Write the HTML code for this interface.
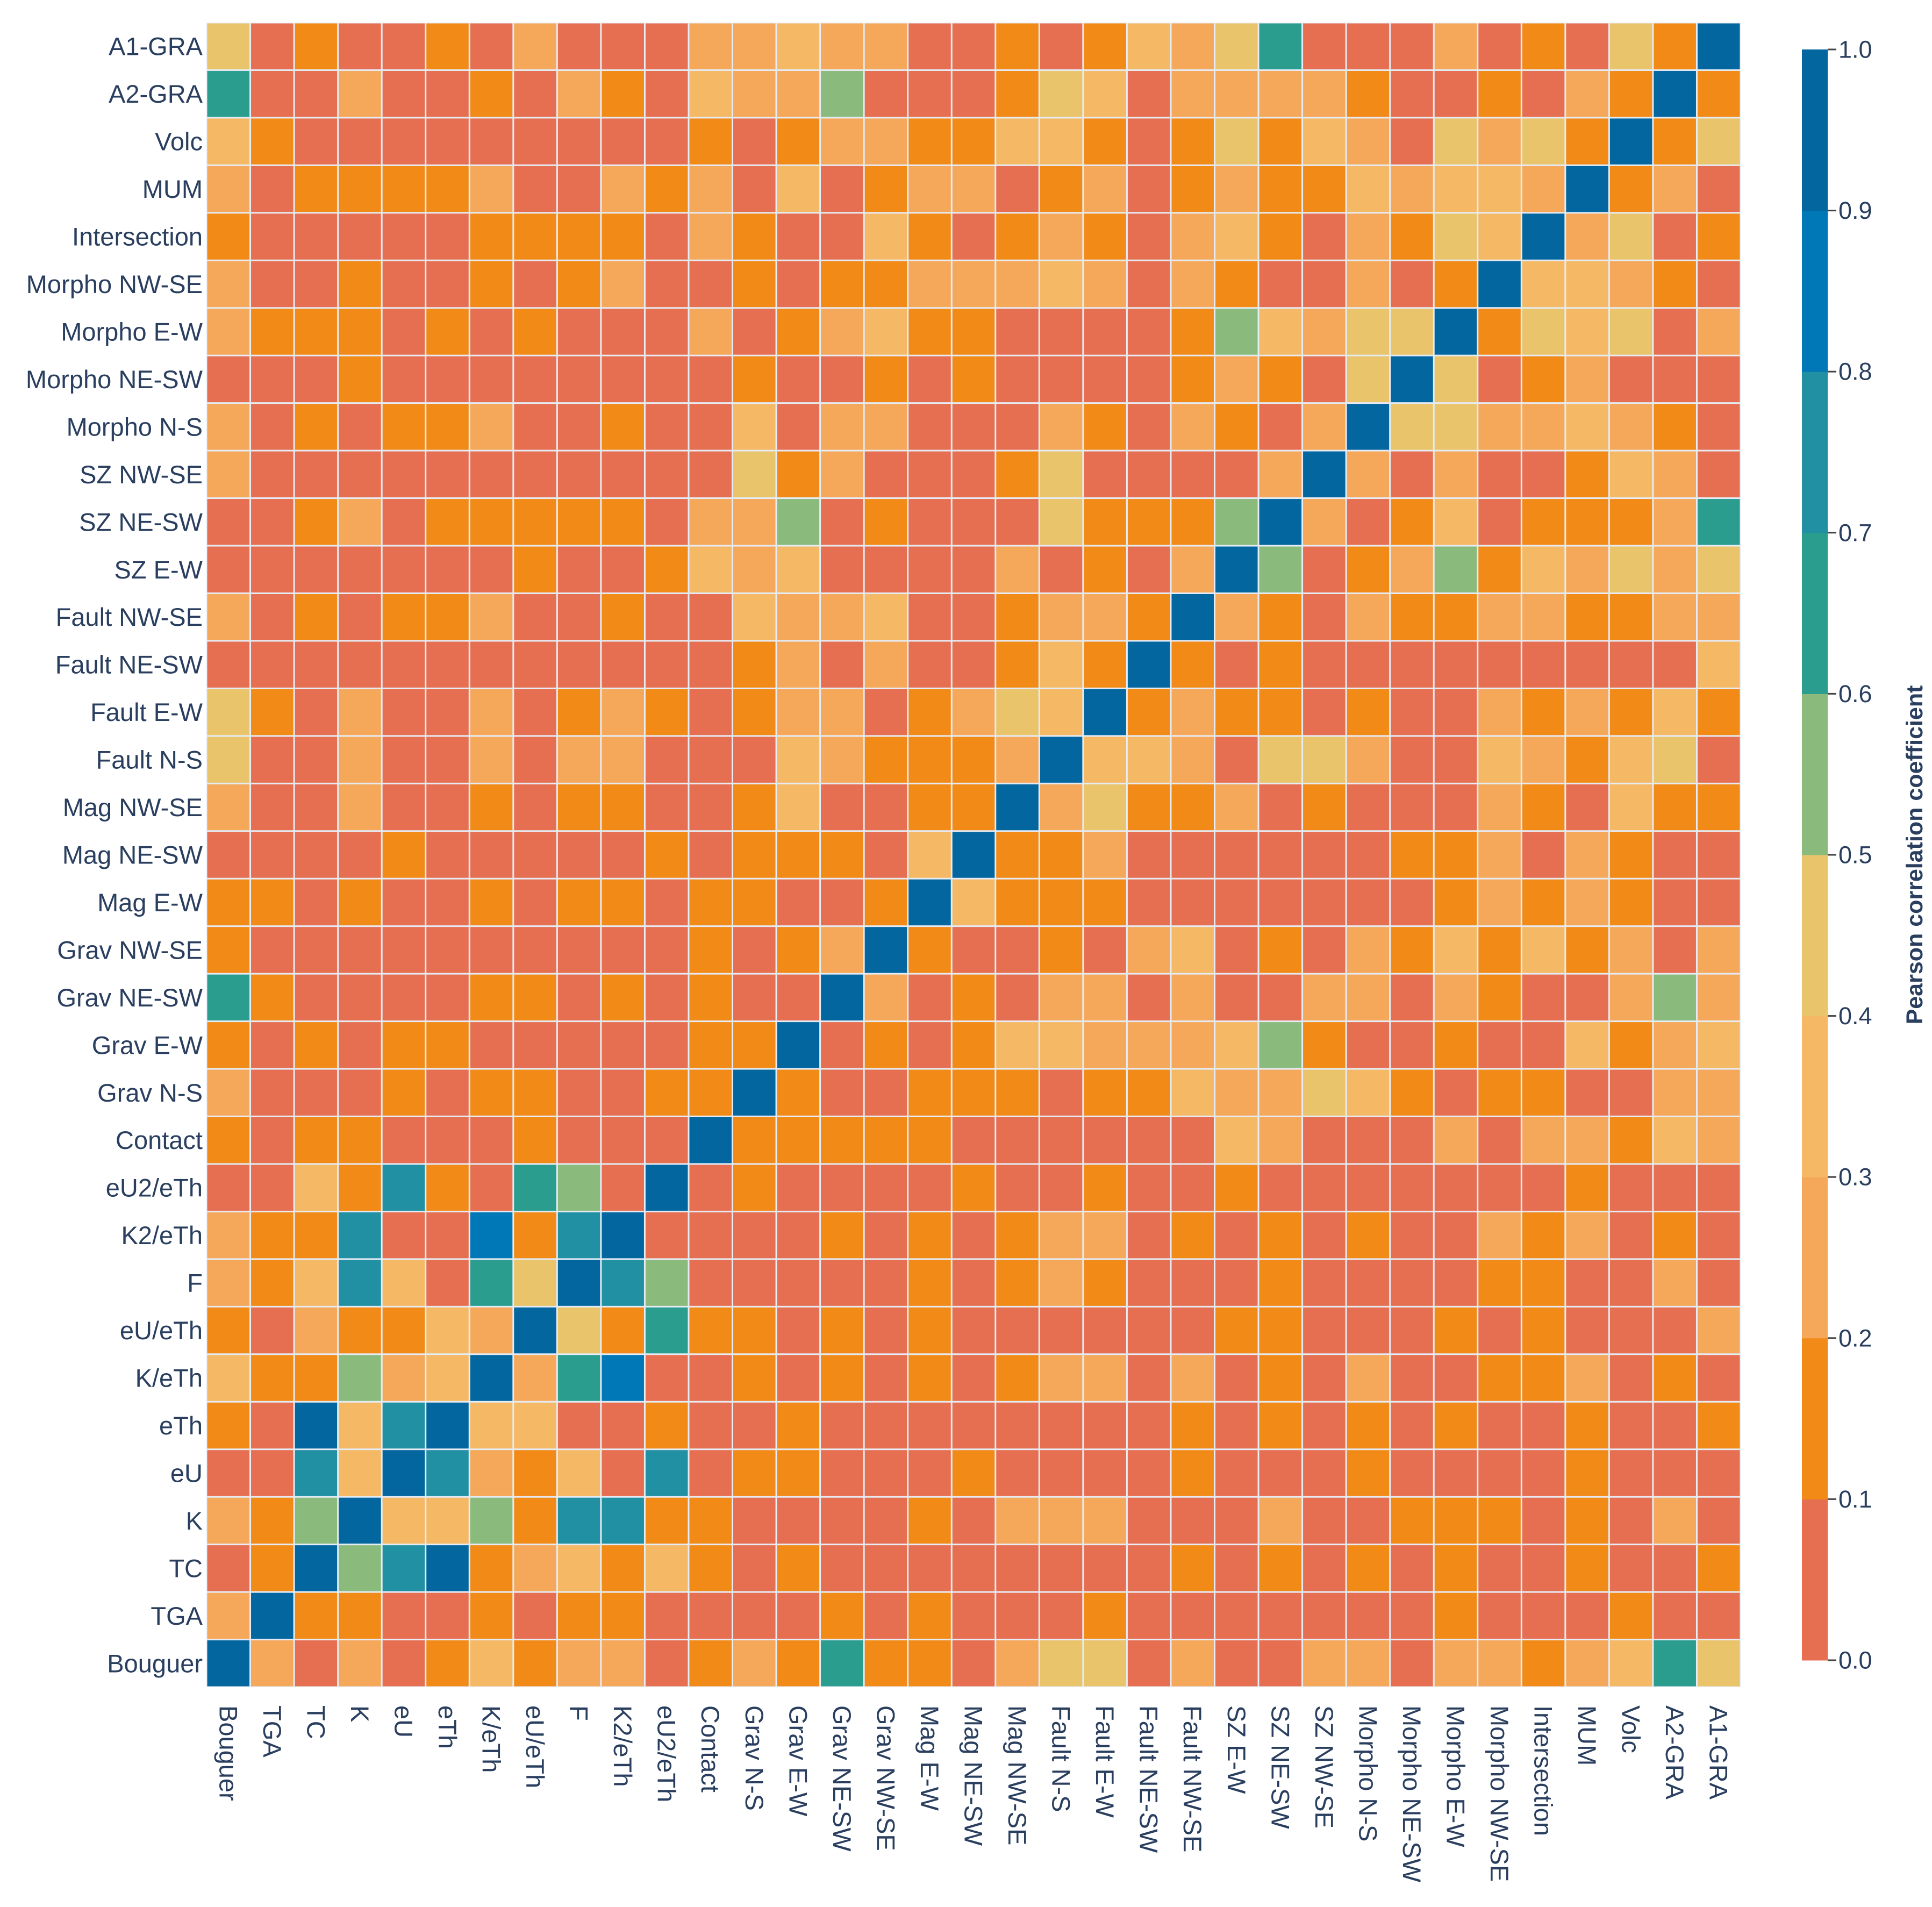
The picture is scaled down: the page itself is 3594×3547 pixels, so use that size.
<!DOCTYPE html>
<html>
<head>
<meta charset="utf-8">
<style>
  html,body{margin:0;padding:0;background:#fff;}
  svg{display:block;}
  text{font-family:"Liberation Sans",Arial,sans-serif;fill:#2a3f5f;}
</style>
</head>
<body>
<svg id="chart" width="3594" height="3547" viewBox="0 0 3594 3547" xmlns="http://www.w3.org/2000/svg">
  <rect x="0" y="0" width="3594" height="3547" fill="#ffffff"/>
  <g id="cells"></g>
  <g id="ylabels"></g>
  <g id="xlabels"></g>
  <g id="colorbar"></g>
  <text x="0" y="0" transform="translate(3562,1590) rotate(-90)" text-anchor="middle" dominant-baseline="central" font-size="43" font-weight="bold">Pearson correlation coefficient</text>
</svg>
<script>
const variableLabels = ["Bouguer","TGA","TC","K","eU","eTh","K/eTh","eU/eTh","F","K2/eTh","eU2/eTh","Contact","Grav N-S","Grav E-W","Grav NE-SW","Grav NW-SE","Mag E-W","Mag NE-SW","Mag NW-SE","Fault N-S","Fault E-W","Fault NE-SW","Fault NW-SE","SZ E-W","SZ NE-SW","SZ NW-SE","Morpho N-S","Morpho NE-SW","Morpho E-W","Morpho NW-SE","Intersection","MUM","Volc","A2-GRA","A1-GRA"];

const rowBouguer = [1,.25,.05,.25,.05,.15,.35,.15,.25,.25,.05,.15,.25,.15,.65,.15,.15,.05,.25,.45,.45,.05,.25,.05,.05,.25,.25,.05,.25,.25,.15,.25,.35,.65,.45];
const rowTGA = [.25,1,.15,.15,.05,.05,.15,.05,.15,.15,.05,.05,.05,.05,.15,.05,.15,.05,.05,.05,.15,.05,.05,.05,.05,.05,.05,.05,.15,.05,.05,.05,.15,.05,.05];
const rowTC = [.05,.15,1,.55,.75,.95,.15,.25,.35,.15,.35,.15,.05,.15,.05,.05,.05,.05,.05,.05,.05,.05,.15,.05,.15,.05,.15,.05,.15,.05,.05,.15,.05,.05,.15];
const rowK = [.25,.15,.55,1,.35,.35,.55,.15,.75,.75,.15,.15,.05,.05,.05,.05,.15,.05,.25,.25,.25,.05,.05,.05,.25,.05,.05,.15,.15,.15,.05,.15,.05,.25,.05];
const rowEU = [.05,.05,.75,.35,1,.75,.25,.15,.35,.05,.75,.05,.15,.15,.05,.05,.05,.15,.05,.05,.05,.05,.15,.05,.05,.05,.15,.05,.05,.05,.05,.15,.05,.05,.05];
const rowETh = [.15,.05,.95,.35,.75,1,.35,.35,.05,.05,.15,.05,.05,.15,.05,.05,.05,.05,.05,.05,.05,.05,.15,.05,.15,.05,.15,.05,.15,.05,.05,.15,.05,.05,.15];
const rowKeTh = [.35,.15,.15,.55,.25,.35,1,.25,.65,.85,.05,.05,.15,.05,.15,.05,.15,.05,.15,.25,.25,.05,.25,.05,.15,.05,.25,.05,.05,.15,.15,.25,.05,.15,.05];
const rowEUeTh = [.15,.05,.25,.15,.15,.35,.25,1,.45,.15,.65,.15,.15,.05,.15,.05,.15,.05,.05,.05,.05,.05,.05,.15,.15,.05,.05,.05,.15,.05,.15,.05,.05,.05,.25];
const rowF = [.25,.15,.35,.75,.35,.05,.65,.45,1,.75,.55,.05,.05,.05,.05,.05,.15,.05,.15,.25,.15,.05,.05,.05,.15,.05,.05,.05,.05,.15,.15,.05,.05,.25,.05];
const rowK2eTh = [.25,.15,.15,.75,.05,.05,.85,.15,.75,1,.05,.05,.05,.05,.15,.05,.15,.05,.15,.25,.25,.05,.15,.05,.15,.05,.15,.05,.05,.25,.15,.25,.05,.15,.05];
const rowEU2eTh = [.05,.05,.35,.15,.75,.15,.05,.65,.55,.05,1,.05,.15,.05,.05,.05,.05,.15,.05,.05,.15,.05,.05,.15,.05,.05,.05,.05,.05,.05,.05,.15,.05,.05,.05];
const rowContact = [.15,.05,.15,.15,.05,.05,.05,.15,.05,.05,.05,1,.15,.15,.15,.15,.15,.05,.05,.05,.05,.05,.05,.35,.25,.05,.05,.05,.25,.05,.25,.25,.15,.35,.25];
const rowGravNS = [.25,.05,.05,.05,.15,.05,.15,.15,.05,.05,.15,.15,1,.15,.05,.05,.15,.15,.15,.05,.15,.15,.35,.25,.25,.45,.35,.15,.05,.15,.15,.05,.05,.25,.25];
const rowGravEW = [.15,.05,.15,.05,.15,.15,.05,.05,.05,.05,.05,.15,.15,1,.05,.15,.05,.15,.35,.35,.25,.25,.25,.35,.55,.15,.05,.05,.15,.05,.05,.35,.15,.25,.35];
const rowGravNESW = [.65,.15,.05,.05,.05,.05,.15,.15,.05,.15,.05,.15,.05,.05,1,.25,.05,.15,.05,.25,.25,.05,.25,.05,.05,.25,.25,.05,.25,.15,.05,.05,.25,.55,.25];
const rowGravNWSE = [.15,.05,.05,.05,.05,.05,.05,.05,.05,.05,.05,.15,.05,.15,.25,1,.15,.05,.05,.15,.05,.25,.35,.05,.15,.05,.25,.15,.35,.15,.35,.15,.25,.05,.25];
const rowMagEW = [.15,.15,.05,.15,.05,.05,.15,.05,.15,.15,.05,.15,.15,.05,.05,.15,1,.35,.15,.15,.15,.05,.05,.05,.05,.05,.05,.05,.15,.25,.15,.25,.15,.05,.05];
const rowMagNESW = [.05,.05,.05,.05,.15,.05,.05,.05,.05,.05,.15,.05,.15,.15,.15,.05,.35,1,.15,.15,.25,.05,.05,.05,.05,.05,.05,.15,.15,.25,.05,.25,.15,.05,.05];
const rowMagNWSE = [.25,.05,.05,.25,.05,.05,.15,.05,.15,.15,.05,.05,.15,.35,.05,.05,.15,.15,1,.25,.45,.15,.15,.25,.05,.15,.05,.05,.05,.25,.15,.05,.35,.15,.15];
const rowFaultNS = [.45,.05,.05,.25,.05,.05,.25,.05,.25,.25,.05,.05,.05,.35,.25,.15,.15,.15,.25,1,.35,.35,.25,.05,.45,.45,.25,.05,.05,.35,.25,.15,.35,.45,.05];
const rowFaultEW = [.45,.15,.05,.25,.05,.05,.25,.05,.15,.25,.15,.05,.15,.25,.25,.05,.15,.25,.45,.35,1,.15,.25,.15,.15,.05,.15,.05,.05,.25,.15,.25,.15,.35,.15];
const rowFaultNESW = [.05,.05,.05,.05,.05,.05,.05,.05,.05,.05,.05,.05,.15,.25,.05,.25,.05,.05,.15,.35,.15,1,.15,.05,.15,.05,.05,.05,.05,.05,.05,.05,.05,.05,.35];
const rowFaultNWSE = [.25,.05,.15,.05,.15,.15,.25,.05,.05,.15,.05,.05,.35,.25,.25,.35,.05,.05,.15,.25,.25,.15,1,.25,.15,.05,.25,.15,.15,.25,.25,.15,.15,.25,.25];
const rowSZEW = [.05,.05,.05,.05,.05,.05,.05,.15,.05,.05,.15,.35,.25,.35,.05,.05,.05,.05,.25,.05,.15,.05,.25,1,.55,.05,.15,.25,.55,.15,.35,.25,.45,.25,.45];
const rowSZNESW = [.05,.05,.15,.25,.05,.15,.15,.15,.15,.15,.05,.25,.25,.55,.05,.15,.05,.05,.05,.45,.15,.15,.15,.55,1,.25,.05,.15,.35,.05,.15,.15,.15,.25,.65];
const rowSZNWSE = [.25,.05,.05,.05,.05,.05,.05,.05,.05,.05,.05,.05,.45,.15,.25,.05,.05,.05,.15,.45,.05,.05,.05,.05,.25,1,.25,.05,.25,.05,.05,.15,.35,.25,.05];
const rowMorphoNS = [.25,.05,.15,.05,.15,.15,.25,.05,.05,.15,.05,.05,.35,.05,.25,.25,.05,.05,.05,.25,.15,.05,.25,.15,.05,.25,1,.45,.45,.25,.25,.35,.25,.15,.05];
const rowMorphoNESW = [.05,.05,.05,.15,.05,.05,.05,.05,.05,.05,.05,.05,.15,.05,.05,.15,.05,.15,.05,.05,.05,.05,.15,.25,.15,.05,.45,1,.45,.05,.15,.25,.05,.05,.05];
const rowMorphoEW = [.25,.15,.15,.15,.05,.15,.05,.15,.05,.05,.05,.25,.05,.15,.25,.35,.15,.15,.05,.05,.05,.05,.15,.55,.35,.25,.45,.45,1,.15,.45,.35,.45,.05,.25];
const rowMorphoNWSE = [.25,.05,.05,.15,.05,.05,.15,.05,.15,.25,.05,.05,.15,.05,.15,.15,.25,.25,.25,.35,.25,.05,.25,.15,.05,.05,.25,.05,.15,1,.35,.35,.25,.15,.05];
const rowIntersection = [.15,.05,.05,.05,.05,.05,.15,.15,.15,.15,.05,.25,.15,.05,.05,.35,.15,.05,.15,.25,.15,.05,.25,.35,.15,.05,.25,.15,.45,.35,1,.25,.45,.05,.15];
const rowMUM = [.25,.05,.15,.15,.15,.15,.25,.05,.05,.25,.15,.25,.05,.35,.05,.15,.25,.25,.05,.15,.25,.05,.15,.25,.15,.15,.35,.25,.35,.35,.25,1,.15,.25,.05];
const rowVolc = [.35,.15,.05,.05,.05,.05,.05,.05,.05,.05,.05,.15,.05,.15,.25,.25,.15,.15,.35,.35,.15,.05,.15,.45,.15,.35,.25,.05,.45,.25,.45,.15,1,.15,.45];
const rowA2GRA = [.65,.05,.05,.25,.05,.05,.15,.05,.25,.15,.05,.35,.25,.25,.55,.05,.05,.05,.15,.45,.35,.05,.25,.25,.25,.25,.15,.05,.05,.15,.05,.25,.15,1,.15];
const rowA1GRA = [.45,.05,.15,.05,.05,.15,.05,.25,.05,.05,.05,.25,.25,.35,.25,.25,.05,.05,.15,.05,.15,.35,.25,.45,.65,.05,.05,.05,.25,.05,.15,.05,.45,.15,1];

const correlationRows = [rowBouguer,rowTGA,rowTC,rowK,rowEU,rowETh,rowKeTh,rowEUeTh,rowF,rowK2eTh,rowEU2eTh,rowContact,rowGravNS,rowGravEW,rowGravNESW,rowGravNWSE,rowMagEW,rowMagNESW,rowMagNWSE,rowFaultNS,rowFaultEW,rowFaultNESW,rowFaultNWSE,rowSZEW,rowSZNESW,rowSZNWSE,rowMorphoNS,rowMorphoNESW,rowMorphoEW,rowMorphoNWSE,rowIntersection,rowMUM,rowVolc,rowA2GRA,rowA1GRA];

const binEdges = [0,0.1,0.2,0.3,0.4,0.5,0.6,0.7,0.8,0.9,1.0];
const binColors = ["#e76f51","#f28a17","#f5a85a","#f5b965","#e9c46a","#8abb7d","#2a9d8f","#2190a2","#0077b6","#04669e"];
const colorbarTicks = [0,0.1,0.2,0.3,0.4,0.5,0.6,0.7,0.8,0.9,1.0];
const colorbarTickLabels = ["0.0","0.1","0.2","0.3","0.4","0.5","0.6","0.7","0.8","0.9","1.0"];

const NS = "http://www.w3.org/2000/svg";
const plotLeft = 384, plotRight = 3238, plotTop = 42, plotBottom = 3138;
const nVars = variableLabels.length;
const cellW = (plotRight - plotLeft) / nVars;
const cellH = (plotBottom - plotTop) / nVars;
const gap = 3;

function xScale(i){ return plotLeft + i * cellW; }
function yScale(i){ return plotBottom - (i + 1) * cellH; }
function colorFor(v){
  for (let k = 0; k < binColors.length; k++) {
    if (v < binEdges[k+1]) return binColors[k];
  }
  return binColors[binColors.length-1];
}
function mk(tag, attrs){
  const el = document.createElementNS(NS, tag);
  for (const a in attrs) el.setAttribute(a, attrs[a]);
  return el;
}

const cells = document.getElementById('cells');
const bg = mk('rect', {x: plotLeft, y: plotTop, width: plotRight-plotLeft, height: plotBottom-plotTop, fill: '#e5ecf6'});


cells.appendChild(bg);

for (let r = 0; r < nVars; r++) {
  const rowVals = correlationRows[r];
  for (let c = 0; c < nVars; c++) {
    const v = rowVals[c];
    const rect = mk('rect', {
      x: (xScale(c) + gap/2).toFixed(2),
      y: (yScale(r) + gap/2).toFixed(2),
      width: (cellW - gap).toFixed(2),
      height: (cellH - gap).toFixed(2),
      fill: colorFor(v)
    });
    
    
    const t = document.createElementNS(NS, 'title');
    t.textContent = variableLabels[r] + ' / ' + variableLabels[c] + ': ' + v;
    rect.appendChild(t);
    cells.appendChild(rect);
  }
}

const ylabels = document.getElementById('ylabels');
const xlabels = document.getElementById('xlabels');
for (let i = 0; i < nVars; i++) {
  const yl = mk('text', {x: plotLeft - 7, y: (yScale(i) + cellH/2).toFixed(2), 'text-anchor': 'end', 'dominant-baseline': 'central', 'font-size': 47});
  
  
  yl.textContent = variableLabels[i];
  ylabels.appendChild(yl);

  const cx = xScale(i) + cellW/2;
  const xl = mk('text', {x: 0, y: 0, transform: 'translate(' + cx.toFixed(2) + ',3172) rotate(90)', 'text-anchor': 'start', 'dominant-baseline': 'central', 'font-size': 47});
  
  
  xl.textContent = variableLabels[i];
  xlabels.appendChild(xl);
}

const cb = document.getElementById('colorbar');
const cbLeft = 3352, cbWidth = 48, cbTop = 92, cbBottom = 3088;
function cbScale(v){ return cbBottom - v * (cbBottom - cbTop); }
for (let k = 0; k < binColors.length; k++) {
  const y1 = cbScale(binEdges[k+1]), y0 = cbScale(binEdges[k]);
  const seg = mk('rect', {x: cbLeft, y: y1.toFixed(2), width: cbWidth, height: (y0 - y1 + 0.5).toFixed(2), fill: binColors[k]});
  
  
  cb.appendChild(seg);
}
for (let k = 0; k < colorbarTicks.length; k++) {
  const ty = cbScale(colorbarTicks[k]);
  const tick = mk('line', {x1: cbLeft + cbWidth, x2: cbLeft + cbWidth + 16, y1: ty, y2: ty, stroke: '#444', 'stroke-width': 3});
  
  
  cb.appendChild(tick);
  const lbl = mk('text', {x: cbLeft + cbWidth + 20, y: ty, 'dominant-baseline': 'central', 'font-size': 45});
  
  
  lbl.textContent = colorbarTickLabels[k];
  cb.appendChild(lbl);
}
</script>
</body>
</html>
